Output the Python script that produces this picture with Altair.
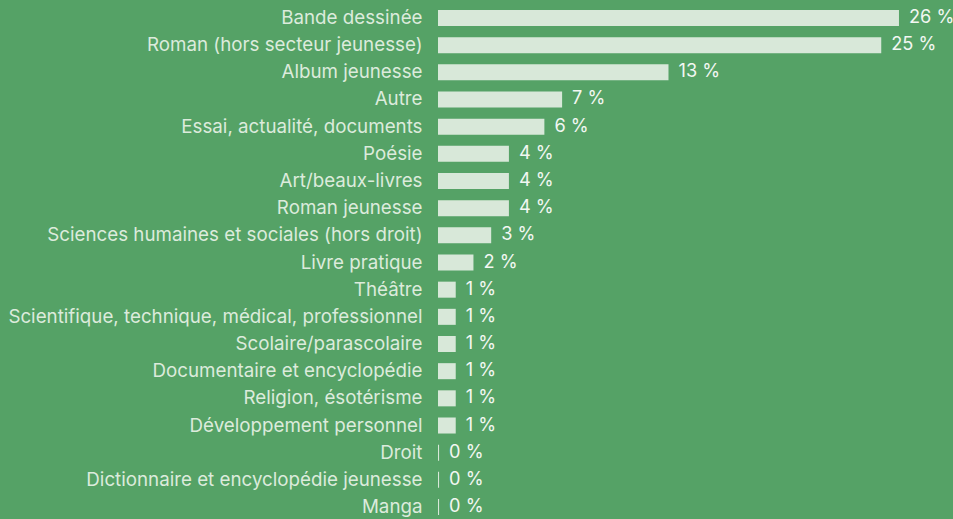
import altair as alt
import pandas as pd

categories = [
    "Bande dessinée",
    "Roman (hors secteur jeunesse)",
    "Album jeunesse",
    "Autre",
    "Essai, actualité, documents",
    "Poésie",
    "Art/beaux-livres",
    "Roman jeunesse",
    "Sciences humaines et sociales (hors droit)",
    "Livre pratique",
    "Théâtre",
    "Scientifique, technique, médical, professionnel",
    "Scolaire/parascolaire",
    "Documentaire et encyclopédie",
    "Religion, ésotérisme",
    "Développement personnel",
    "Droit",
    "Dictionnaire et encyclopédie jeunesse",
    "Manga",
]
values = [26, 25, 13, 7, 6, 4, 4, 4, 3, 2, 1, 1, 1, 1, 1, 1, 0.06, 0.06, 0.06]
labels = ["26 %", "25 %", "13 %", "7 %", "6 %", "4 %", "4 %", "4 %", "3 %", "2 %",
          "1 %", "1 %", "1 %", "1 %", "1 %", "1 %", "0 %", "0 %", "0 %"]

df = pd.DataFrame({"cat": categories, "val": values, "lab": labels})

BG = "#55a266"
BAR = "#d8e8d9"
FONT = "Inter"
FS = 18.75

W = 515
y = alt.Y(
    "cat:N",
    sort=categories,
    title=None,
    scale=alt.Scale(range=[4.4, 520.6], paddingInner=0.41, paddingOuter=0.205),
    axis=alt.Axis(
        domain=False, ticks=False, tickSize=0, labelPadding=16,
        labelFont=FONT, labelFontSize=FS, labelColor="#dcebdc",
        labelLimit=600,
    ),
)
x = alt.X("val:Q", title=None, scale=alt.Scale(domain=[0, W / 17.73], nice=False),
          axis=None)

bars = alt.Chart(df).mark_bar(color=BAR).encode(x=x, y=y)
text = alt.Chart(df).mark_text(
    align="left", baseline="middle", dx=10, font=FONT, fontSize=18.2, color="#f2f7f2"
).encode(x=x, y=y, text="lab:N")

chart = (bars + text).properties(
    width=W, height=519, background=BG,
    autosize=alt.AutoSizeParams(type="none"),
    padding={"left": 438, "top": 0, "right": 0, "bottom": 0},
).configure_view(stroke=None, fill=BG)

chart.save("out.html", embed_options={
    "renderer": "svg", "actions": False,
    "defaultStyle": "html,body{background:#55a266;margin:0;overflow:hidden}",
})
